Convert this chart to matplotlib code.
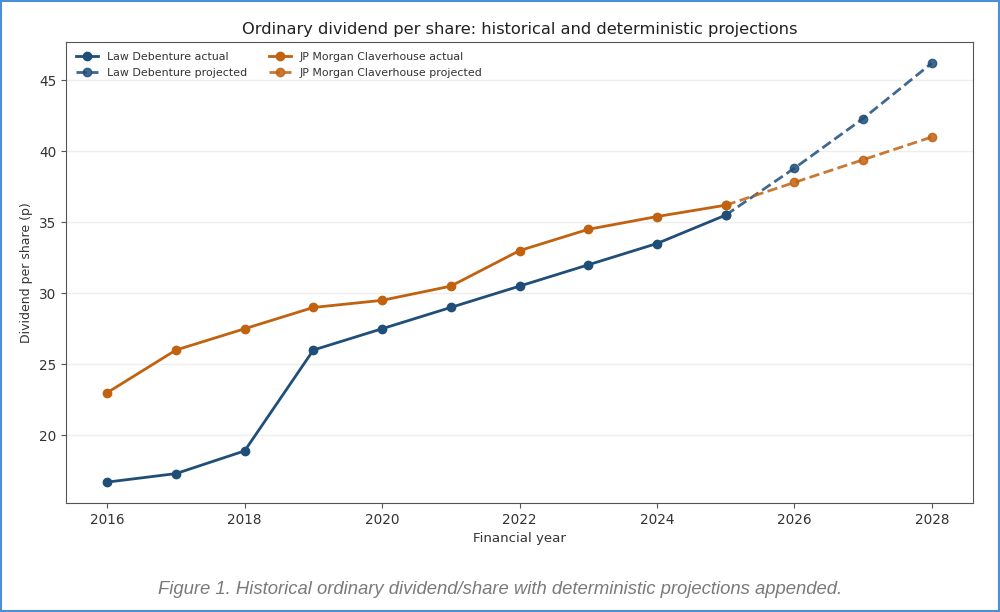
import matplotlib
matplotlib.use('Agg')
import matplotlib.pyplot as plt
from matplotlib.patches import Rectangle

# data
years_actual = [2016, 2017, 2018, 2019, 2020, 2021, 2022, 2023, 2024, 2025]
years_proj = [2025, 2026, 2027, 2028]
law_actual = [16.7, 17.3, 18.9, 26.0, 27.5, 29.0, 30.5, 32.0, 33.5, 35.5]
law_proj = [35.5, 38.8, 42.3, 46.2]
jpm_actual = [23.0, 26.0, 27.5, 29.0, 29.5, 30.5, 33.0, 34.5, 35.4, 36.2]
jpm_proj = [36.2, 37.8, 39.4, 41.0]

blue = '#1f4e79'
orange = '#c0620f'

fig = plt.figure(figsize=(10, 6.12), dpi=100)
ax = fig.add_axes([0.066, 0.178, 0.907, 0.753])

ax.plot(years_actual, law_actual, '-o', color=blue, lw=2, ms=6, label='Law Debenture actual')
ax.plot(years_proj, law_proj, '--o', color=blue, alpha=0.85, lw=2, ms=6, label='Law Debenture projected')
ax.plot(years_actual, jpm_actual, '-o', color=orange, lw=2, ms=6, label='JP Morgan Claverhouse actual')
ax.plot(years_proj, jpm_proj, '--o', color=orange, alpha=0.85, lw=2, ms=6, label='JP Morgan Claverhouse projected')

ax.set_title('Ordinary dividend per share: historical and deterministic projections',
             fontsize=11.7, color='#222222')
ax.set_xlabel('Financial year', fontsize=9.6, color='#333333')
ax.set_ylabel('Dividend per share (p)', fontsize=9, color='#333333')
ax.set_xticks([2016, 2018, 2020, 2022, 2024, 2026, 2028])
ax.tick_params(labelsize=9.8, labelcolor='#333333', color='#555555')
for s in ax.spines.values():
    s.set_color('#555555')
ax.grid(axis='y', color='#eeeeee', lw=1)
ax.set_axisbelow(True)
leg = ax.legend(loc='upper left', ncol=2, fontsize=7.9, frameon=False)
for t in leg.get_texts():
    t.set_color('#333333')

fig.text(0.5, 0.036, 'Figure 1. Historical ordinary dividend/share with deterministic projections appended.',
         ha='center', va='center', fontsize=13.3, style='italic', color='#7a7a7a',
         family='Liberation Sans')

fig.patches.append(Rectangle((0.001, 0.002), 0.998, 0.996, transform=fig.transFigure,
                             fill=False, edgecolor='#4a90d9', lw=1.5))

fig.savefig('out.png', dpi=100)
